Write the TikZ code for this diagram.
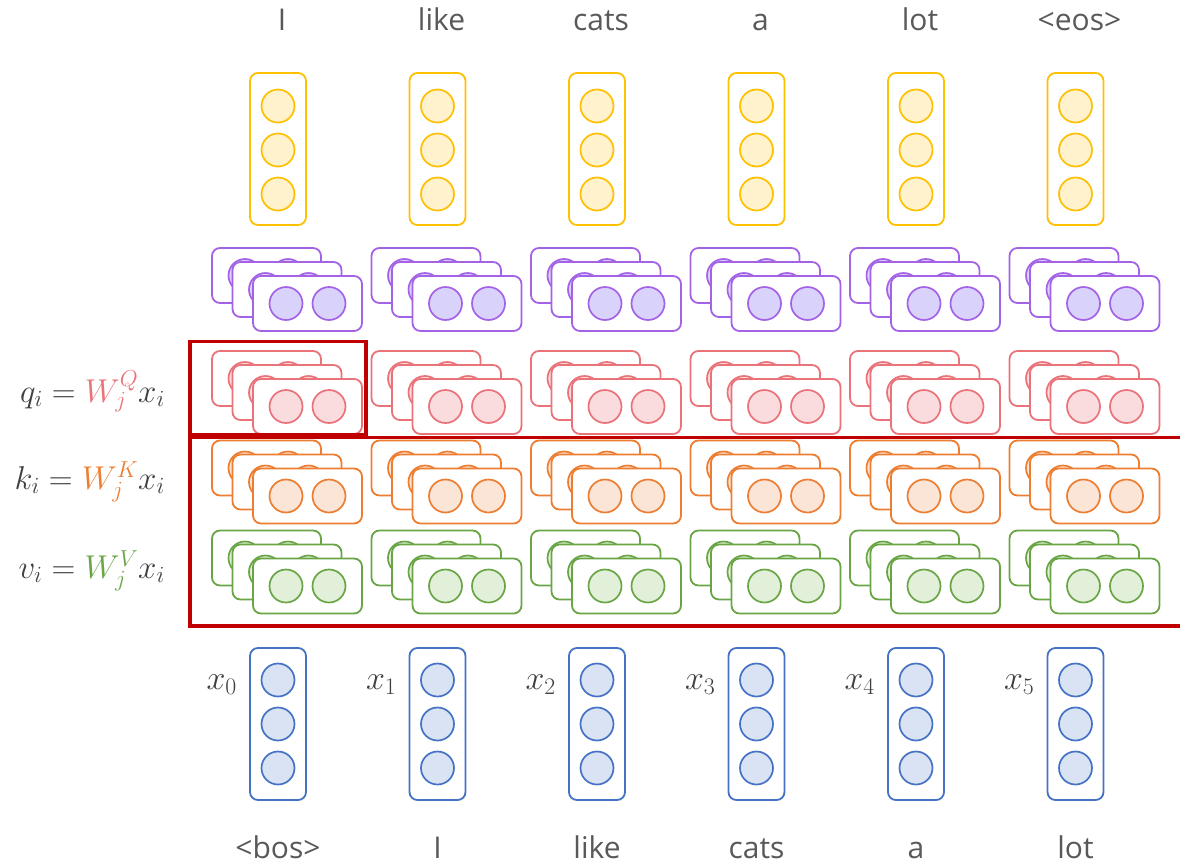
\RequirePackage{fix-cm}
\documentclass[tikz,border=0pt]{standalone}
\usepackage{fontspec}
\setmainfont{Open Sans}
\usetikzlibrary{positioning}

\definecolor{wordgray}{HTML}{595959}
\definecolor{mathgray}{HTML}{404040}
\definecolor{framered}{HTML}{C00000}
\definecolor{yellowline}{HTML}{FFC000}
\definecolor{yellowfill}{HTML}{FFF2CC}
\definecolor{purpleline}{HTML}{A463E6}
\definecolor{purplefill}{HTML}{D9D3FB}
\definecolor{redline}{HTML}{EA7279}
\definecolor{redfill}{HTML}{FADBDE}
\definecolor{orangeline}{HTML}{ED7D31}
\definecolor{orangefill}{HTML}{FBE5D6}
\definecolor{greenline}{HTML}{6AA545}
\definecolor{greenfill}{HTML}{E2F0D9}
\definecolor{blueline}{HTML}{4472C4}
\definecolor{bluefill}{HTML}{DAE3F3}

\begin{document}
\begin{tikzpicture}[x=1pt, y=-1pt,
  column/.style={draw=#1, fill=white, line width=1.8pt, rounded corners=8pt, minimum width=56pt, minimum height=152pt, inner sep=0pt},
  head/.style={draw=#1, fill=white, line width=1.8pt, rounded corners=8pt, minimum width=109pt, minimum height=55pt, inner sep=0pt},
  unit/.style args={#1/#2}{circle, draw=#1, fill=#2, line width=1.7pt, minimum size=33pt, inner sep=0pt},
  word/.style={text=wordgray, font=\fontsize{30}{36}\selectfont, anchor=base},
  xlab/.style={text=mathgray, font=\fontsize{34}{40}\selectfont, inner sep=0pt, anchor=base east},
  formula/.style={text=mathgray, font=\fontsize{33}{40}\selectfont, inner sep=0pt, anchor=base east},
  frame/.style={draw=framered, line width=3.5pt}]
\useasboundingbox (0,0) rectangle (1180,865);

% output vectors and words on top
\foreach \w [count=\i from 0] in {I, like, cats, a, lot, <eos>} {
  \pgfmathsetmacro\cx{278+159.5*\i}
  \node[word] (top\i) at (\cx+4,30) {\w};
  \node[column=yellowline] (out\i) at (\cx,149) {};
  \foreach \k in {0,1,2}
    \node[unit=yellowline/yellowfill] (out\i-\k) at (\cx,106+44*\k) {};
}

% stacked heads: attention output, queries, keys, values
\foreach \row/\cy/\dc/\fc in {att/303.5/purpleline/purplefill, q/406.5/redline/redfill, k/496/orangeline/orangefill, v/586/greenline/greenfill} {
  \foreach \i in {0,...,5} {
    \pgfmathsetmacro\cx{278+159.5*\i}
    \foreach \k in {0,1,2} {
      \pgfmathsetmacro\hx{\cx+29.5-20.5*(2-\k)}
      \pgfmathsetmacro\hy{\cy-14*(2-\k)}
      \node[head=\dc] (\row\i-\k) at (\hx,\hy) {};
      \node[unit=\dc/\fc] (\row\i-\k a) at (\hx-21.5,\hy) {};
      \node[unit=\dc/\fc] (\row\i-\k b) at (\hx+21.5,\hy) {};
    }
  }
}

% input vectors
\foreach \w [count=\i from 0] in {<bos>, I, like, cats, a, lot} {
  \pgfmathsetmacro\cx{278+159.5*\i}
  \node[column=blueline] (in\i) at (\cx,724) {};
  \foreach \k in {0,1,2}
    \node[unit=blueline/bluefill] (in\i-\k) at (\cx,680+44*\k) {};
  \path (in\i.west) ++(-12,-35) node[xlab] (xl\i) {$x_{\i}$};
  \node[word] (bot\i) at (\cx,858) {\w};
}

\node[formula] (fq) at (165,402) {$q_i = {\color{redline}W_j^Q} x_i$};
\node[formula] (fk) at (165,489) {$k_i = {\color{orangeline}W_j^K} x_i$};
\node[formula] (fv) at (165,578) {$v_i = {\color{greenline}W_j^V} x_i$};

\draw[frame] (190,341.5) rectangle (366,434.5);
\draw[frame] (1190,437.5) -- (190,437.5) -- (190,626) -- (1190,626);
\end{tikzpicture}
\end{document}
